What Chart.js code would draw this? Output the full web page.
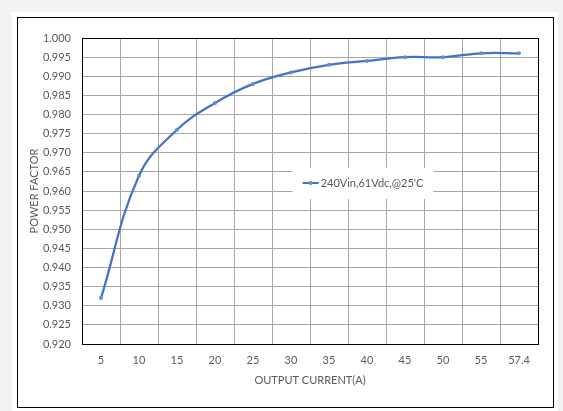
<!DOCTYPE html>
<html>
<head>
<meta charset="utf-8">
<script src="https://cdn.jsdelivr.net/npm/chart.js@4/dist/chart.umd.min.js"></script>
<style>
  html, body { margin: 0; padding: 0; background: #f3f3f3; }
  #wrap { position: relative; width: 563px; height: 411px; overflow: hidden; }
  #panel { position: absolute; left: 12px; top: 12px; width: 546px; height: 399px; background: #ffffff; }
  #frame { position: absolute; left: 17px; top: 17px; width: 535px; height: 389px; border: 1px solid #000; }
  canvas { position: absolute; left: 0; top: 0; }
</style>
</head>
<body>
<div id="wrap">
  <div id="panel"></div>
  <div id="frame"></div>
  <canvas id="c" width="563" height="411"></canvas>
</div>
<script>
const categories = ['5', '10', '15', '20', '25', '30', '35', '40', '45', '50', '55', '57.4'];
const powerFactor = [0.932, 0.964, 0.976, 0.983, 0.988, 0.991, 0.993, 0.994, 0.995, 0.995, 0.996, 0.996];
const seriesLabel = "240Vin,61Vdc,@25'C";
const xTitle = 'OUTPUT CURRENT(A)';
const yTitle = 'POWER FACTOR';
const yMin = 0.920;
const yMax = 1.000;
const yStep = 0.005;

const textColor = '#595959';
const fontFamily = 'Lato, "Open Sans", sans-serif';

const plotFrame = {
  id: 'plotFrame',
  afterDraw(chart) {
    const { ctx, chartArea: a } = chart;
    ctx.save();
    ctx.strokeStyle = '#000';
    ctx.lineWidth = 1;
    ctx.strokeRect(Math.round(a.left) + 0.5, Math.round(a.top) + 0.5, Math.round(a.right - a.left), Math.round(a.bottom - a.top));
    // floating legend inside plot area
    const ds = chart.data.datasets[0];
    ctx.font = '11px ' + fontFamily;
    const tw = ctx.measureText(ds.label).width;
    const cx = (a.left + a.right) / 2 + 53;
    const cy = (a.top + a.bottom) / 2 - 8;
    const lineW = 16, gap = 2;
    const totalW = lineW + gap + tw;
    const x0 = cx - totalW / 2;
    ctx.fillStyle = '#fff';
    ctx.fillRect(x0 - 10, cy - 15, totalW + 20, 31);
    ctx.strokeStyle = ds.borderColor;
    ctx.lineWidth = 2;
    ctx.beginPath();
    ctx.moveTo(x0, cy);
    ctx.lineTo(x0 + lineW, cy);
    ctx.stroke();
    ctx.fillStyle = ds.pointBackgroundColor;
    ctx.beginPath();
    ctx.arc(x0 + lineW / 2, cy, 2, 0, Math.PI * 2);
    ctx.fill();
    ctx.fillStyle = textColor;
    ctx.textBaseline = 'middle';
    ctx.textAlign = 'left';
    ctx.fillText(ds.label, x0 + lineW + gap, cy + 0.5);
    ctx.restore();
  }
};

new Chart(document.getElementById('c'), {
  type: 'line',
  data: {
    labels: categories,
    datasets: [{
      label: seriesLabel,
      data: powerFactor,
      borderColor: '#4472C4',
      borderWidth: 2.25,
      pointBackgroundColor: '#5B8FD8',
      pointBorderColor: '#5B8FD8',
      pointRadius: 2,
      pointBorderWidth: 0,
      tension: 0.4,
      cubicInterpolationMode: 'default',
      fill: false
    }]
  },
  options: {
    responsive: false,
    animation: false,
    devicePixelRatio: 1,
    layout: { padding: { left: 28, top: 38, right: 25, bottom: 24 } },
    plugins: {
      legend: { display: false },
      tooltip: { enabled: false }
    },
    scales: {
      x: {
        type: 'category',
        offset: true,
        grid: { offset: true, color: '#a6a6a6', lineWidth: 1, drawTicks: false },
        border: { display: false },
        ticks: { color: textColor, font: { family: fontFamily, size: 11 }, padding: 10, maxRotation: 0, autoSkip: false },
        title: { display: true, text: xTitle, color: textColor, font: { family: fontFamily, size: 11 }, padding: { top: 5, bottom: 0 } },
        afterFit(scale) { scale.height = 43; }
      },
      y: {
        min: yMin,
        max: yMax,
        grid: { color: '#a6a6a6', lineWidth: 1, drawTicks: false },
        border: { display: false },
        ticks: {
          stepSize: yStep,
          color: textColor,
          font: { family: fontFamily, size: 11 },
          padding: 11,
          callback: (v) => Number(v).toFixed(3)
        },
        title: { display: true, text: yTitle, color: textColor, font: { family: fontFamily, size: 11 }, padding: { top: 0, bottom: 0 } },
        afterFit(scale) { scale.width = 54; }
      }
    }
  },
  plugins: [plotFrame]
});
</script>
</body>
</html>
